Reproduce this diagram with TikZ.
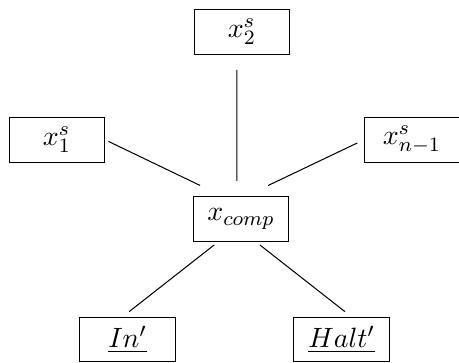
\documentclass[tikz,border=0pt]{standalone}
\begin{document}
\begin{tikzpicture}[x=0.392pt, y=-0.392pt,
  box/.style={draw, line width=0.4pt, minimum width=37.6pt, minimum height=17.6pt, inner sep=0pt, font=\fontsize{11}{13}\selectfont},
  link/.style={line width=0.4pt}]
\useasboundingbox (0,0) rectangle (459,363);
% nodes
\node[box] (x2)   at (242,32)    {$x_2^s$};
\node[box] (x1)   at (57,140)    {$x_1^s$};
\node[box] (xn)   at (412,140)   {$x_{n-1}^s$};
\node[box] (comp) at (241,219)   {$x_{comp}$};
\node[box] (in)   at (127.5,339.5) {$\underline{In'}$};
\node[box] (halt) at (341.5,339.5) {$\underline{Halt'}$};
% connectors
\draw[link, shorten <=1.3pt, shorten >=9.6pt] (x1.east) -- ([xshift=-7.4pt]comp.north);
\draw[link, shorten <=2.7pt, shorten >=9.6pt] (xn.west) -- ([xshift=2pt]comp.north);
\draw[link, shorten <=5.9pt, shorten >=5.9pt] ([xshift=-2pt]x2.south) -- ([xshift=-1.6pt]comp.north);
\draw[link, shorten <=1.9pt, shorten >=3.1pt] ([xshift=-9pt]comp.south) -- ([xshift=-1.8pt]in.north);
\draw[link, shorten <=1.9pt, shorten >=3.1pt] ([xshift=5.9pt]comp.south) -- ([xshift=3.8pt]halt.north);
\end{tikzpicture}
\end{document}
